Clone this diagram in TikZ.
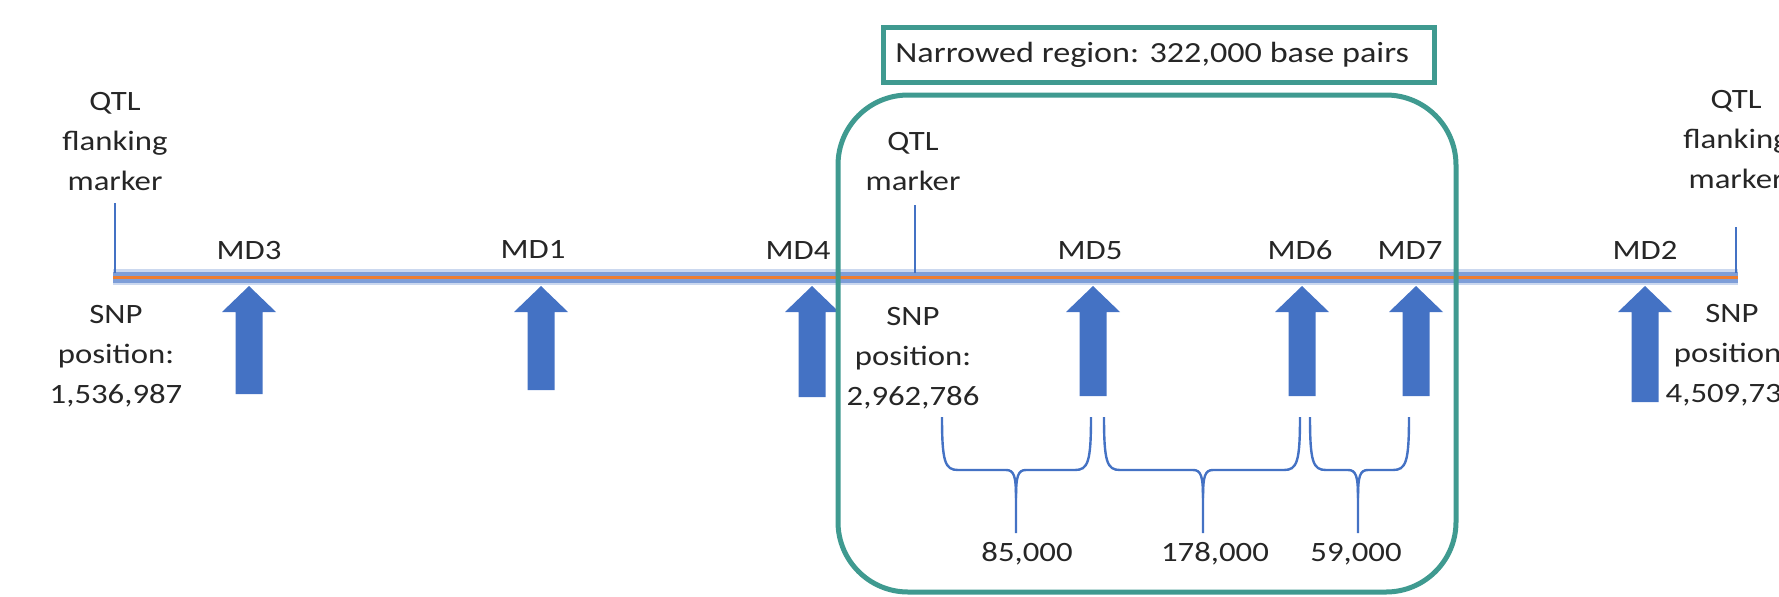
\documentclass[tikz,border=0pt]{standalone}
\usepackage{fontspec}
\setmainfont{Carlito}[FakeStretch=1.17]
\newcommand\mlines[1]{\begin{tabular}[t]{@{}c@{}}#1\end{tabular}}
\definecolor{arrowblue}{HTML}{4472C4}
\definecolor{bandblue}{HTML}{7E9ED8}
\definecolor{lineorange}{HTML}{ED7D31}
\definecolor{tealc}{HTML}{3F9A90}
\definecolor{txt}{HTML}{262626}
\newcommand\upblockarrow[2]{%
  \fill[blockarrow] (#1-13.5,#2) -- (#1-13.5,312) -- (#1-27,312) -- (#1,286) -- (#1+27,312) -- (#1+13.5,312) -- (#1+13.5,#2) -- cycle;}
\newcommand\gapbrace[3]{%
  \draw[bracepath] (#1,417) .. controls (#1,462) and (#1+3,470) .. (#1+16,470) -- (#3-10,470) .. controls (#3-2,470) and (#3,476) .. (#3,498) -- (#3,533);
  \draw[bracepath] (#2,417) .. controls (#2,462) and (#2-3,470) .. (#2-16,470) -- (#3+10,470) .. controls (#3+2,470) and (#3,476) .. (#3,498);}
\begin{document}
\begin{tikzpicture}[x=0.5pt,y=-0.5pt,
  lbl/.style={font=\fontsize{14pt}{20pt}\selectfont, text=txt, inner sep=0pt, anchor=base},
  tick/.style={draw=arrowblue, line width=0.7pt},
  bracepath/.style={draw=arrowblue, line width=1.2pt},
  blockarrow/.style={fill=arrowblue},
  frame/.style={draw=tealc, line width=2.5pt}]
\useasboundingbox (0,0) rectangle (1779,596);
\clip (0,0) rectangle (1779,596);

% main chromosome line
\coordinate (lineS) at (113,277);
\coordinate (lineE) at (1738,277);
\draw[bandblue!40, line width=8pt] (lineS) -- (lineE);
\draw[bandblue, line width=5.5pt] (lineS) -- (lineE);
\draw[lineorange, line width=1.5pt] (lineS) -- (lineE);

% marker ticks
\coordinate (tickLtop) at (115,203);
\coordinate (tickLbot) at (115,273);
\coordinate (tickMtop) at (915,205);
\coordinate (tickMbot) at (915,273);
\coordinate (tickRtop) at (1736,227);
\coordinate (tickRbot) at (1736,273);
\draw[tick] (tickLtop) -- (tickLbot);
\draw[tick] (tickMtop) -- (tickMbot);
\draw[tick] (tickRtop) -- (tickRbot);

% top labels
\node[lbl] (qtlL) at (115,110) {\mlines{QTL\\flanking\\marker}};
\node[lbl] (qtlM) at (913,150) {\mlines{QTL\\marker}};
\node[lbl] (qtlR) at (1736,108) {\mlines{QTL\\flanking\\marker}};

% bottom labels
\node[lbl] (snpL) at (116,323) {\mlines{SNP\\position:\\1,536,987}};
\node[lbl] (snpM) at (913,325) {\mlines{SNP\\position:\\2,962,786}};
\node[lbl] (snpR) at (1732,322) {\mlines{SNP\\position:\\4,509,73\phantom{0}}};

% MD labels
\node[lbl] (md3) at (249,259) {MD3};
\node[lbl] (md1) at (533,258) {MD1};
\node[lbl] (md4) at (798,259) {MD4};
\node[lbl] (md5) at (1090,259) {MD5};
\node[lbl] (md6) at (1300,259) {MD6};
\node[lbl] (md7) at (1410,259) {MD7};
\node[lbl] (md2) at (1645,259) {MD2};

% block arrows
\upblockarrow{249}{394}
\upblockarrow{541}{390}
\upblockarrow{812}{397}
\upblockarrow{1093}{396}
\upblockarrow{1302}{396}
\upblockarrow{1416}{396}
\upblockarrow{1645}{402}

% braces
\gapbrace{942}{1091}{1016}
\gapbrace{1104}{1300}{1203}
\gapbrace{1310}{1409}{1358}
\node[lbl] (d1) at (1027,561) {85,000};
\node[lbl] (d2) at (1215,561) {178,000};
\node[lbl] (d3) at (1356,561) {59,000};

% narrowed region frame
\draw[frame, rounded corners=35pt] (838,95) rectangle (1456,592);
\node[frame, inner sep=0pt, minimum width=275.5pt, minimum height=27.5pt, anchor=north west] (nbox) at (881,25) {};
\node[lbl, font=\fontsize{14.6pt}{20pt}\selectfont, anchor=base west] (ntext) at (895,62) {Narrowed region: 322,000 base pairs};
\end{tikzpicture}
\end{document}
